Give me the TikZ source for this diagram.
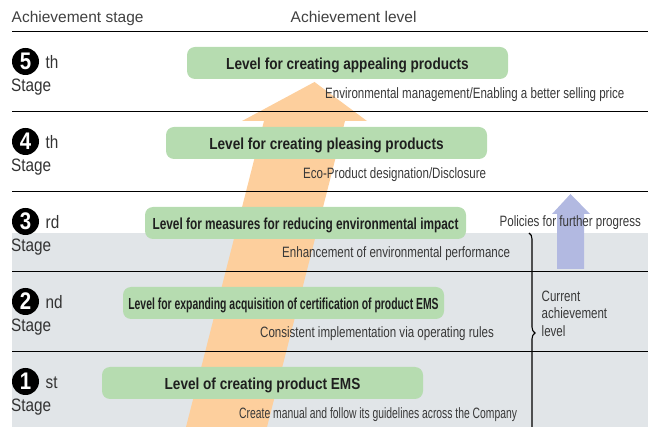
\documentclass[tikz,border=0pt]{standalone}
\usepackage{fontspec}
\setmainfont{Liberation Sans}
\newfontfamily\narrowfont{Liberation Sans}[FakeStretch=0.77]
\newfontfamily\narrowerfont{Liberation Sans}[FakeStretch=0.69]
\newfontfamily\stagefont{Liberation Sans}[FakeStretch=0.85]
\newfontfamily\levelwide{Liberation Sans}[FakeStretch=0.85]
\newfontfamily\levelmid{Liberation Sans}[FakeStretch=0.74]
\newfontfamily\levelnarrow{Liberation Sans}[FakeStretch=0.65]
\usetikzlibrary{decorations.pathreplacing}
\definecolor{levelgreen}{RGB}{182,220,176}
\definecolor{arroworange}{RGB}{253,207,157}
\definecolor{policyblue}{RGB}{178,185,225}
\definecolor{currentgray}{RGB}{225,229,232}

\begin{document}
\begin{tikzpicture}[x=1pt, y=-1pt,
  level/.style={fill=levelgreen, rounded corners=8pt, minimum width=321pt,
    minimum height=32pt, inner sep=0pt, text height=13pt, text depth=0pt, text=black!88},
  note/.style={anchor=base west, inner sep=0pt, text=black!78,
    font=\narrowfont\fontsize{15}{17.3}\selectfont},
  stagenum/.style={circle, fill=black, text=white, minimum size=27pt, inner sep=0pt,
    font=\stagefont\bfseries\fontsize{24}{24}\selectfont},
  stagetext/.style={anchor=base west, inner sep=0pt, text=black!80,
    font=\stagefont\fontsize{18}{18}\selectfont},
  heading/.style={anchor=base west, inner sep=0pt, text=black!75,
    font=\fontsize{15.5}{16}\selectfont},
  rule/.style={line width=0.9pt}]
\useasboundingbox (0,0) rectangle (648,427);

% current achievement area
\fill[currentgray] (12,233) rectangle (648,427);

% arrows
\fill[arroworange] (186,427) -- (264,121) -- (242,121) -- (314.5,82)
  -- (367,121) -- (345,121) -- (267,427) -- cycle;
\fill[policyblue] (557,269) -- (557,214) -- (552,214) -- (570.5,194)
  -- (590,214) -- (584,214) -- (584,269) -- cycle;

% rules
\foreach \y in {31,111,191,271,351}
  \draw[rule] (12,\y) -- (648,\y);

% headings
\node[heading] (stagehead) at (11.5,23) {Achievement stage};
\node[heading] (levelhead) at (290.5,23) {Achievement level};

% stages
\foreach \n/\suf in {5/th,4/th,3/rd,2/nd,1/st} {
  \node[stagenum] (num\n) at (25.5,{61.5+(5-\n)*80}) {\n};
  \node[stagetext] (suf\n) at (45.5,{68.5+(5-\n)*80}) {\suf};
  \node[stagetext] (stage\n) at (11,{92+(5-\n)*80}) {Stage};
}

% levels
\node[level, font=\levelwide\bfseries\fontsize{16}{16}\selectfont] (level5) at (347.5,63)
  {Level for creating appealing products};
\node[note] (note5) at (325,98.5) {Environmental management/Enabling a better selling price};

\node[level, font=\levelwide\bfseries\fontsize{16}{16}\selectfont] (level4) at (326.5,143)
  {Level for creating pleasing products};
\node[note] (note4) at (303,178.5) {Eco-Product designation/Disclosure};

\node[level, font=\levelmid\bfseries\fontsize{16}{16}\selectfont] (level3) at (305.5,223)
  {Level for measures for reducing environmental impact};
\node[note] (note3) at (282,257.5) {Enhancement of environmental performance};

\node[level, font=\levelnarrow\bfseries\fontsize{16}{16}\selectfont] (level2) at (283.5,303)
  {Level for expanding acquisition of certification of product EMS};
\node[note] (note2) at (260,337.5) {Consistent implementation via operating rules};

\node[level, font=\levelwide\bfseries\fontsize{16}{16}\selectfont] (level1) at (262.5,383)
  {Level of creating product EMS};
\node[note, font=\narrowerfont\fontsize{15}{17.3}\selectfont] (note1) at (239,418)
  {Create manual and follow its guidelines across the Company};

% policies and current level
\node[note] (policy) at (499.5,226.5) {Policies for further progress};
\begin{scope}
\clip (0,0) rectangle (648,427);
\draw[line width=1.1pt, decorate, decoration={brace, amplitude=6pt}] (529,233) -- (529,433);
\end{scope}
\node[note, anchor=north west, align=left] (current) at (541.5,291) {Current\\achievement\\level};

\end{tikzpicture}
\end{document}
